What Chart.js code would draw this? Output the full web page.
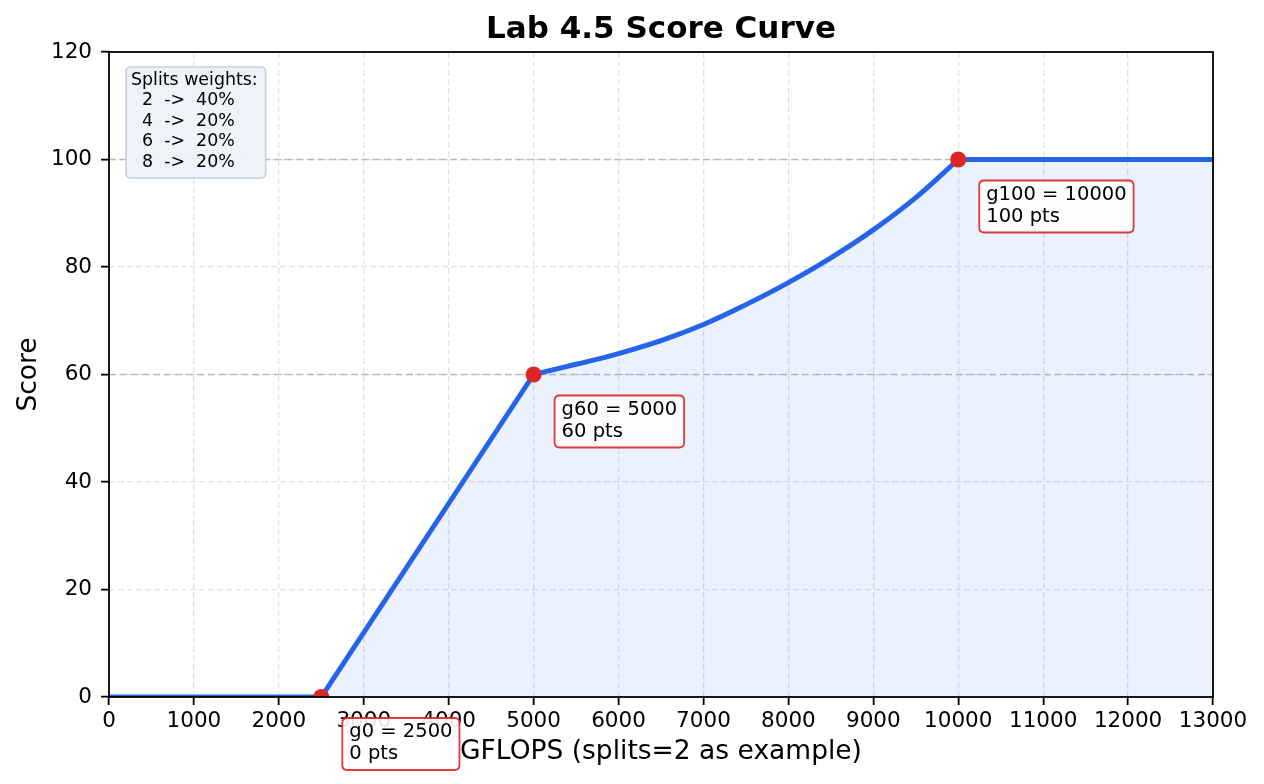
<!DOCTYPE html>
<html>
<head>
<meta charset="utf-8">
<title>Lab 4.5 Score Curve</title>
<script src="https://cdn.jsdelivr.net/npm/chart.js@4.4.0/dist/chart.umd.min.js"></script>
<style>
    html, body { margin: 0; padding: 0; background: #fff; }
    #wrap { width: 1264px; height: 784px; }
</style>
</head>
<body>
<div id="wrap"><canvas id="scoreChart" width="1264" height="784"></canvas></div>
<script>
// score curve, values
var baseX = [0, 2500];
var baseY = [0, 0];
var rampX = [2500, 5000];
var rampY = [0, 60];
var curveX = [5000, 5500, 6000, 6500, 7000, 7500, 8000, 8500, 9000, 9500, 10000];
var curveY = [60, 61.9, 63.9, 66.3, 69.3, 73.0, 77.1, 81.7, 86.9, 92.9, 100];
var capX = [10000, 13000];
var capY = [100, 100];

// marked thresholds
var keyX = [2500, 5000, 10000];
var keyY = [0, 60, 100];
var keyNames = ['g0 = 2500', 'g60 = 5000', 'g100 = 10000'];
var keyPts = ['0 pts', '60 pts', '100 pts'];

// dashed guide levels
var refLevels = [60, 100];

var splitNames = ['2', '4', '6', '8'];
var splitWeights = [40, 20, 20, 20];

var xMin = 0, xMax = 13000, xStep = 1000;
var yMin = 0, yMax = 120, yStep = 20;

var titleText = 'Lab 4.5 Score Curve';

var BLUE = '#2563eb';
var RED = '#dc2626';

function toPoints(xs, ys) {
    var pts = [];
    for (var i = 0; i < xs.length; i++) {
        pts.push({x: xs[i], y: ys[i]});
    }
    return pts;
}

function roundBox(ctx, x, y, w, h, r) {
    ctx.beginPath();
    ctx.moveTo(x + r, y);
    ctx.lineTo(x + w - r, y);
    ctx.quadraticCurveTo(x + w, y, x + w, y + r);
    ctx.lineTo(x + w, y + h - r);
    ctx.quadraticCurveTo(x + w, y + h, x + w - r, y + h);
    ctx.lineTo(x + r, y + h);
    ctx.quadraticCurveTo(x, y + h, x, y + h - r);
    ctx.lineTo(x, y + r);
    ctx.quadraticCurveTo(x, y, x + r, y);
    ctx.closePath();
}

Chart.defaults.font.family = 'DejaVu Sans';
Chart.defaults.color = '#000';

var lineStyle = {
    borderColor: BLUE,
    borderWidth: 5,
    pointRadius: 0,
    fill: false,
    clip: 0,
    order: 1
};

var datasets = [];

// threshold markers on top
datasets.push({
    data: toPoints(keyX, keyY),
    showLine: false,
    pointRadius: 8,
    pointBackgroundColor: RED,
    pointBorderColor: RED,
    pointBorderWidth: 0,
    clip: 0,
    order: 0
});

datasets.push(Object.assign({data: toPoints(baseX, baseY), tension: 0}, lineStyle));
datasets.push(Object.assign({data: toPoints(rampX, rampY), tension: 0}, lineStyle));
datasets.push(Object.assign({data: toPoints(curveX, curveY), tension: 0.4}, lineStyle));
datasets.push(Object.assign({data: toPoints(capX, capY), tension: 0}, lineStyle));

refLevels.forEach(function (lvl) {
    datasets.push({
        data: [{x: xMin, y: lvl}, {x: xMax, y: lvl}],
        borderColor: 'rgba(150,160,185,0.65)',
        borderWidth: 1.6,
        borderDash: [7, 4],
        pointRadius: 0,
        fill: false,
        clip: 0,
        order: 2
    });
});

// shaded area under the whole curve
datasets.push({
    data: toPoints(baseX.concat(rampX, curveX, capX), baseY.concat(rampY, curveY, capY)),
    borderWidth: 0,
    borderColor: 'rgba(0,0,0,0)',
    backgroundColor: 'rgba(37,99,235,0.085)',
    pointRadius: 0,
    fill: 'origin',
    tension: 0,
    clip: 0,
    order: 3
});

var framePlugin = {
    id: 'frame',
    afterDatasetsDraw: function (chart) {
        var a = chart.chartArea, ctx = chart.ctx;
        ctx.save();
        ctx.strokeStyle = '#000';
        ctx.lineWidth = 1.8;
        ctx.strokeRect(a.left, a.top, a.right - a.left, a.bottom - a.top);
        ctx.restore();
    }
};

var notesPlugin = {
    id: 'notes',
    afterDraw: function (chart) {
        var ctx = chart.ctx, a = chart.chartArea;
        var sx = chart.scales.x, sy = chart.scales.y;
        ctx.save();

        // title, centred over the plot area
        ctx.font = 'bold 31px "DejaVu Sans"';
        ctx.fillStyle = '#000';
        ctx.textAlign = 'center';
        ctx.textBaseline = 'middle';
        ctx.fillText(titleText, (a.left + a.right) / 2, 30);
        ctx.textAlign = 'left';

        // splits weights box
        var lines = ['Splits weights:'];
        for (var i = 0; i < splitNames.length; i++) {
            lines.push('  ' + splitNames[i] + '  ->  ' + splitWeights[i] + '%');
        }
        ctx.font = '17.4px "DejaVu Sans"';
        var w = 0;
        lines.forEach(function (t) { w = Math.max(w, ctx.measureText(t).width); });
        var bx = a.left + 17, by = a.top + 15, lh = 20.6;
        roundBox(ctx, bx, by, w + 13, lh * lines.length + 8, 5);
        ctx.fillStyle = 'rgba(238,242,249,0.95)';
        ctx.fill();
        ctx.strokeStyle = '#c7d1e0';
        ctx.lineWidth = 1.6;
        ctx.stroke();
        ctx.fillStyle = '#000';
        lines.forEach(function (t, k) {
            ctx.fillText(t, bx + 5, by + 13 + k * lh);
        });

        // threshold labels
        ctx.font = '19.5px "DejaVu Sans"';
        for (var j = 0; j < keyX.length; j++) {
            var px = sx.getPixelForValue(keyX[j]);
            var py = sy.getPixelForValue(keyY[j]);
            var tw = Math.max(ctx.measureText(keyNames[j]).width, ctx.measureText(keyPts[j]).width);
            var lx = px + 21, ly = py + 21;
            roundBox(ctx, lx, ly, tw + 14, 52, 5);
            ctx.fillStyle = 'rgba(255,255,255,0.9)';
            ctx.fill();
            ctx.strokeStyle = 'rgba(220,38,38,0.9)';
            ctx.lineWidth = 1.8;
            ctx.stroke();
            ctx.fillStyle = '#000';
            ctx.fillText(keyNames[j], lx + 7, ly + 14);
            ctx.fillText(keyPts[j], lx + 7, ly + 36);
        }
        ctx.restore();
    }
};

var canvas = document.getElementById('scoreChart');
var chart = new Chart(canvas.getContext('2d'), {
    type: 'line',
    data: {datasets: datasets},
    plugins: [framePlugin, notesPlugin],
    options: {
        responsive: false,
        animation: false,
        layout: {padding: {left: 0, right: 51, top: 52, bottom: 0}},
        plugins: {
            legend: {display: false},
            tooltip: {enabled: false},
            title: {display: false}
        },
        scales: {
            x: {
                type: 'linear',
                min: xMin,
                max: xMax,
                afterFit: function (s) { s.height = 87; },
                ticks: {
                    stepSize: xStep,
                    font: {size: 21.5},
                    padding: 4,
                    maxRotation: 0,
                    color: '#000',
                    callback: function (v) { return String(v); }
                },
                grid: {color: '#e2e2e2', lineWidth: 1.3, tickColor: '#000', tickWidth: 1.8, tickLength: 8, tickBorderDash: []},
                border: {display: false, dash: [6, 3]},
                title: {
                    display: true,
                    text: 'GFLOPS (splits=2 as example)',
                    font: {size: 26.5},
                    color: '#000',
                    padding: {top: 0, bottom: 16}
                }
            },
            y: {
                min: yMin,
                max: yMax,
                afterFit: function (s) { s.width = 109; },
                ticks: {
                    stepSize: yStep,
                    font: {size: 21.5},
                    padding: 9,
                    color: '#000',
                    callback: function (v) { return String(v); }
                },
                grid: {color: '#e2e2e2', lineWidth: 1.3, tickColor: '#000', tickWidth: 1.8, tickLength: 8, tickBorderDash: []},
                border: {display: false, dash: [6, 3]},
                title: {
                    display: true,
                    text: 'Score',
                    font: {size: 26.5},
                    color: '#000',
                    padding: {top: 13, bottom: 0}
                }
            }
        }
    }
});
</script>
</body>
</html>
